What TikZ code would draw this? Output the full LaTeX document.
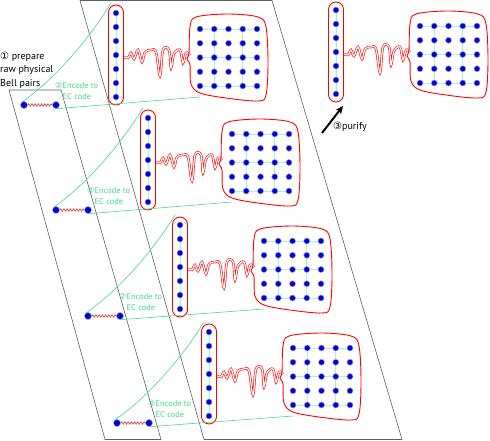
\documentclass[tikz,border=0pt]{standalone}
\usepackage{fontspec}
\setmainfont{PT Sans}
\newfontfamily\circfont{DejaVu Sans}
\usepackage{tikz}
\usetikzlibrary{positioning,%
  calc,%
  arrows.meta,%
  decorations.pathmorphing}

\definecolor{encgreen}{RGB}{70,215,140}
\definecolor{gridcyan}{RGB}{165,240,240}
\definecolor{planegray}{RGB}{95,95,95}
\definecolor{bellred}{RGB}{200,30,30}
\definecolor{qblue}{RGB}{0,0,225}

\tikzset{
  qubit/.style={circle,fill=qblue,draw=gray!70,line width=0.5pt,inner sep=0pt,minimum size=6pt},
  bellqubit/.style={qubit,minimum size=7pt},
  plane/.style={draw=planegray,line width=0.6pt},
  cyanline/.style={draw=gridcyan,line width=0.7pt},
  redwall/.style={draw=red,line width=0.9pt},
  squiggle/.style={draw=red,line width=0.6pt,double=white,double distance=1.2pt},
  bellwire/.style={draw=bellred,line width=0.5pt,decorate,
    decoration={snake,amplitude=1.3pt,segment length=3.2pt}},
  encline/.style={draw=encgreen,line width=0.6pt},
  enclabel/.style={text=encgreen,font=\fontsize{8.4}{11}\selectfont,
    align=left,anchor=west,inner sep=0pt},
  steplabel/.style={font=\fontsize{10}{13.5}\selectfont,align=left,inner sep=0pt},
  logical/.pic={
    % column of seven qubits
    \draw[cyanline] (0,0) -- (0,84);
    \draw[squiggle] plot[smooth,tension=0.6] coordinates {(8,44) (12,45) (15,40)
      (18,46) (22,37) (26,49) (29,39) (35,37) (40,39) (44,63) (47,37) (53,37)
      (55,55) (58,41) (64,37) (67,50) (70,40) (74,42)};
    \draw[redwall,rounded corners=7.5pt] (-7.5,-8) rectangle (7.5,92);
    \foreach \i in {0,...,6}
      \node[qubit] (-c\i) at (0,14*\i) {};
    % 5x5 block
    \foreach \i in {0,2,4}
      \draw[cyanline] (84,16+14.25*\i) -- (141,16+14.25*\i);
    \foreach \j in {1,3}
      \draw[cyanline] (84+14.25*\j,16) -- (84+14.25*\j,73);
    \draw[redwall] plot[smooth cycle,tension=0.55] coordinates {(80,4) (112,1)
      (142,4) (150,14) (152,50) (150,82) (142,88) (110,85) (84,80) (75,71)
      (74,52) (71,46) (73,40) (74,14)};
    \foreach \i in {0,...,4}
      \foreach \j in {0,...,4}
        \node[qubit] (-g\i\j) at (84+14.25*\j,16+14.25*\i) {};
    \coordinate (-top) at (-5,-10);
    \coordinate (-foot) at (84,84);
    \coordinate (-tip) at (7,96);
  }
}

\begin{document}
\begin{tikzpicture}[x=1pt,y=-1pt]
  \useasboundingbox (0,0) rectangle (490,440);
  % planes
  \draw[plane] (9,90) -- (61,90) -- (161,439.5) -- (105,439.5) -- cycle;
  \draw[plane] (80,0.5) -- (272,0.5) -- (402,439.5) -- (204,439.5) -- cycle;

  % encoded qubits
  \pic (L1) at (116,13) {logical};
  \pic (L2) at (148,118) {logical};
  \pic (L3) at (180,225) {logical};
  \pic (L4) at (209,332) {logical};
  \pic (P) at (336,10) {logical};

  % raw Bell pairs and encoding
  \foreach \n/\x/\y in {1/24/105,2/56/210,3/88/316,4/117/423} {
    \node[bellqubit] (bl\n) at (\x,\y) {};
    \node[bellqubit] (br\n) at (\x+32,\y) {};
    \draw[bellwire] (bl\n) -- (br\n);
    \draw[encline] (bl\n.north west) .. controls +(35,-24) and +(-20,33) .. (L\n-top);
    \draw[encline] (br\n.south) -- (L\n-foot);
    \node[enclabel] (enc\n) at (\x+31,\y-14)
      {{\circfont ②}Encode to\\\phantom{\circfont ②}EC code};
  }

  \node[steplabel,anchor=west] (prep) at (0,70)
    {{\circfont ①} prepare\\raw physical\\Bell pairs};
  \node[steplabel,anchor=west] (pur) at (333,127) {{\circfont ③}purify};
  \coordinate (purtail) at (322,133);
  \draw[-{Stealth[length=8pt,width=7pt]},line width=2pt] (purtail) -- (P-tip);
\end{tikzpicture}
\end{document}
